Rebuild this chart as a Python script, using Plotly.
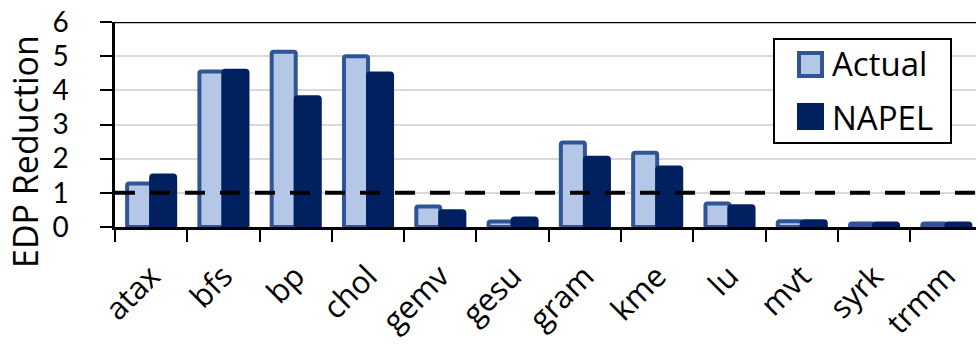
import plotly.graph_objects as go

# Benchmarks and EDP reduction values
benchmarks = ["atax", "bfs", "bp", "chol", "gemv", "gesu", "gram", "kme", "lu", "mvt", "syrk", "trmm"]
actual = [1.27, 4.55, 5.13, 5.0, 0.6, 0.16, 2.47, 2.17, 0.69, 0.17, 0.1, 0.1]
napel = [1.51, 4.57, 3.8, 4.49, 0.46, 0.25, 2.03, 1.74, 0.61, 0.17, 0.1, 0.1]
y_ticks = [0, 1, 2, 3, 4, 5, 6]
baseline = 1

FONT = "Open Sans"
TICK_FONT = "Lato"
LIGHT = "#B4C7E7"
EDGE = "#2F5597"
NAVY = "#002060"

W, H = 978, 345
ML, MR, MT, MB = 115, 2, 22, 118
PW, PH = W - ML - MR, H - MT - MB


def px_x(px):
    return (px - ML) / PW


def px_y(py):
    return (H - MB - py) / PH


fig = go.Figure()
fig.add_trace(go.Bar(
    x=benchmarks, y=actual, name="Actual",
    marker=dict(color=LIGHT, line=dict(color=EDGE, width=4), cornerradius=2),
    showlegend=False,
))
fig.add_trace(go.Bar(
    x=benchmarks, y=napel, name="NAPEL",
    marker=dict(color=NAVY, line=dict(color=NAVY, width=4), cornerradius=2),
    showlegend=False,
))

shapes = [
    # break-even line
    dict(type="line", xref="paper", yref="y", x0=0, x1=1, y0=baseline, y1=baseline,
         line=dict(color="black", width=4, dash="20px,15px"), layer="above"),
    # top border of the plot
    dict(type="line", xref="paper", yref="y", x0=0, x1=1, y0=y_ticks[-1], y1=y_ticks[-1],
         line=dict(color="black", width=2.5), layer="above"),
    # legend frame
    dict(type="rect", xref="paper", yref="paper",
         x0=px_x(774), x1=px_x(951), y0=px_y(143), y1=px_y(39),
         line=dict(color="black", width=2), fillcolor="white", layer="above"),
    dict(type="rect", xref="paper", yref="paper",
         x0=px_x(799), x1=px_x(822), y0=px_y(76), y1=px_y(53),
         line=dict(color=EDGE, width=4), fillcolor=LIGHT, layer="above"),
    dict(type="rect", xref="paper", yref="paper",
         x0=px_x(799), x1=px_x(822), y0=px_y(128), y1=px_y(105),
         line=dict(color=NAVY, width=4), fillcolor=NAVY, layer="above"),
]

annotations = [
    dict(text="Actual", xref="paper", yref="paper", x=px_x(830), y=px_y(64),
         xanchor="left", yanchor="middle", showarrow=False,
         font=dict(family=FONT, size=33, color="black")),
    dict(text="NAPEL", xref="paper", yref="paper", x=px_x(830), y=px_y(117),
         xanchor="left", yanchor="middle", showarrow=False,
         font=dict(family=FONT, size=33, color="black")),
    dict(text="EDP Reduction", xref="paper", yref="paper", x=px_x(25), y=px_y(152),
         xanchor="center", yanchor="middle", textangle=-90, showarrow=False,
         font=dict(family=FONT, size=34, color="black")),
]

fig.update_layout(
    width=W, height=H,
    margin=dict(l=ML, r=MR, t=MT, b=MB, autoexpand=False),
    paper_bgcolor="white", plot_bgcolor="white",
    barmode="group", bargap=0.335, bargroupgap=0,
    font=dict(family=FONT, color="black"),
    shapes=shapes, annotations=annotations,
    showlegend=False,
)

fig.update_xaxes(
    type="category", range=[-0.5, 11.41], automargin=False,
    showline=True, linecolor="black", linewidth=2.5,
    ticks="outside", tickson="boundaries", ticklen=12, tickwidth=2, tickcolor="black",
    tickangle=-45, tickfont=dict(family=FONT, size=31, color="black"),
    ticklabelstandoff=16,
    showgrid=False,
)

fig.update_yaxes(
    range=[0, 6], tickvals=y_ticks, automargin=False,
    showline=True, linecolor="black", linewidth=2.5,
    ticks="outside", ticklen=12, tickwidth=2, tickcolor="black",
    tickfont=dict(family=TICK_FONT, size=28, color="black"),
    ticklabelstandoff=26,
    showgrid=True, gridcolor="#D9D9D9", gridwidth=2,
    zeroline=False,
)

fig.write_html("out.html")
